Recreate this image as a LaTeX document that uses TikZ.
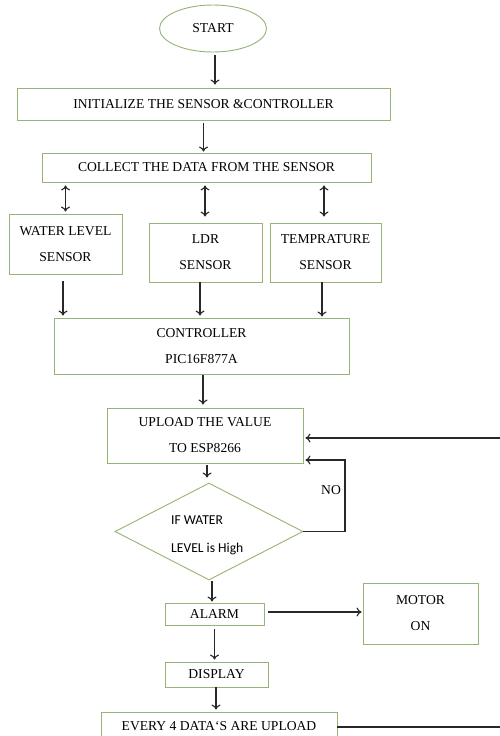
\documentclass[tikz,border=0pt]{standalone}
\usepackage{fontspec}
\setmainfont{Liberation Serif}
\newfontfamily\sansf{Carlito}
\usetikzlibrary{shapes.geometric,arrows.meta,calc}
\definecolor{boxgreen}{RGB}{150,180,118}
\definecolor{arrgray}{RGB}{40,40,40}
\begin{document}
\begin{tikzpicture}[x=1pt,y=-1pt,
  font=\fontsize{13.6}{26}\selectfont,
  box/.style={draw=boxgreen,line width=0.9pt,rectangle,inner sep=0pt,align=center},
  startshape/.style={draw=boxgreen,line width=0.9pt,ellipse,inner sep=0pt},
  arr/.style={draw=arrgray,line width=1.1pt,-{To[length=5pt,width=9pt]}},
  darr/.style={draw=arrgray,line width=1.1pt,{To[length=5pt,width=9pt]}-{To[length=5pt,width=9pt]}},
  plain/.style={draw=arrgray,line width=1.1pt}]
\useasboundingbox (0,0) rectangle (499,736);
\fill[white] (0,0) rectangle (499,736);

\node[startshape,minimum width=107pt,minimum height=47pt] (start) at (213,28.5) {START};
\node[box,minimum width=373pt,minimum height=32pt] (init) at (203.5,104) {INITIALIZE THE SENSOR \&CONTROLLER};
\node[box,minimum width=329pt,minimum height=29pt] (collect) at (206.5,167.5) {COLLECT THE DATA FROM THE SENSOR};
\node[box,minimum width=113pt,minimum height=60pt] (wl) at (65.5,244) {WATER LEVEL\\SENSOR};
\node[box,minimum width=113pt,minimum height=59pt] (ldr) at (205.5,252.5) {LDR\\SENSOR};
\node[box,minimum width=111pt,minimum height=59pt] (temp) at (325.5,252.5) {TEMPRATURE\\SENSOR};
\node[box,minimum width=295pt,minimum height=56pt] (ctrl) at (201.5,346) {CONTROLLER\\PIC16F877A};
\node[box,minimum width=196pt,minimum height=55pt] (upload) at (205,435.5) {UPLOAD THE VALUE\\TO ESP8266};
\node[draw=boxgreen,line width=0.9pt,diamond,inner sep=0pt,minimum width=188pt,minimum height=97pt] (dia) at (209,531.5) {};
\node[anchor=west,align=left,inner sep=0pt,font=\sansf\fontsize{13.6}{28}\selectfont] (diatext) at (171,535) {IF WATER\\LEVEL is High};
\node[box,minimum width=99pt,minimum height=22pt] (alarm) at (214.5,614) {ALARM};
\node[box,minimum width=115pt,minimum height=61pt] (motor) at (420.5,613.5) {MOTOR\\ON};
\node[box,minimum width=103pt,minimum height=25pt] (display) at (216.5,674.5) {DISPLAY};
\node[box,minimum width=236pt,minimum height=28pt] (every) at (219,726) {EVERY 4 DATA`S ARE UPLOAD};
\node[inner sep=0pt] (no) at (331,490) {NO};

\coordinate (rtop) at (503,438);
\coordinate (rbot) at (503,727);
\coordinate (nocorner) at (345,531.5);

% main flow
\draw[arr,shorten <=3pt,shorten >=3pt] ([xshift=2pt]start.south) -- ([xshift=2pt]start.south |- init.north);
\draw[arr,shorten <=3pt,shorten >=1pt] (init.south) -- (init.south |- collect.north);
\draw[darr,shorten <=3pt,shorten >=2pt] (wl.north |- collect.south) -- (wl.north);
\draw[darr,shorten <=3pt,shorten >=6pt] ([xshift=-0.5pt]ldr.north |- collect.south) -- ([xshift=-0.5pt]ldr.north);
\draw[darr,shorten <=3pt,shorten >=6pt] ([xshift=-1.5pt]temp.north |- collect.south) -- ([xshift=-1.5pt]temp.north);
\draw[arr,shorten <=7pt,shorten >=2pt] ([xshift=-2.5pt]wl.south) -- ([xshift=-2.5pt]wl.south |- ctrl.north);
\draw[arr,shorten <=0pt,shorten >=2pt] ([xshift=-5.5pt]ldr.south) -- ([xshift=-5.5pt]ldr.south |- ctrl.north);
\draw[arr,shorten <=0pt,shorten >=1pt] ([xshift=-3.5pt]temp.south) -- ([xshift=-3.5pt]temp.south |- ctrl.north);
\draw[arr,shorten <=1pt,shorten >=3pt] ([xshift=1.5pt]ctrl.south) -- ([xshift=1.5pt]ctrl.south |- upload.north);
\draw[arr,shorten <=2pt,shorten >=5pt] ([xshift=-2pt]dia.north |- upload.south) -- ([xshift=-2pt]dia.north);
\draw[arr,shorten <=1pt,shorten >=1pt] ([xshift=3pt]dia.south) -- ([xshift=3pt]dia.south |- alarm.north);
\draw[arr,shorten <=4pt,shorten >=1pt] ([yshift=2pt]alarm.east) -- ([yshift=2pt]alarm.east -| motor.west);
\draw[arr,shorten <=4pt,shorten >=2pt] (alarm.south) -- (alarm.south |- display.north);
\draw[arr,shorten <=0pt,shorten >=2pt] ([xshift=-0.5pt]display.south) -- ([xshift=-0.5pt]display.south |- every.north);

% NO loop
\draw[plain] (dia.east) -- (nocorner);
\draw[arr,shorten >=2pt] (nocorner) |- ([yshift=-24.5pt]upload.east);

% return from EVERY to UPLOAD (vertical part outside the page)
\draw[plain] ([yshift=-1pt]every.east) -- (rbot) -- (rtop);
\draw[arr,shorten >=2pt] (rtop) -- ([yshift=-2.5pt]upload.east);
\end{tikzpicture}
\end{document}
